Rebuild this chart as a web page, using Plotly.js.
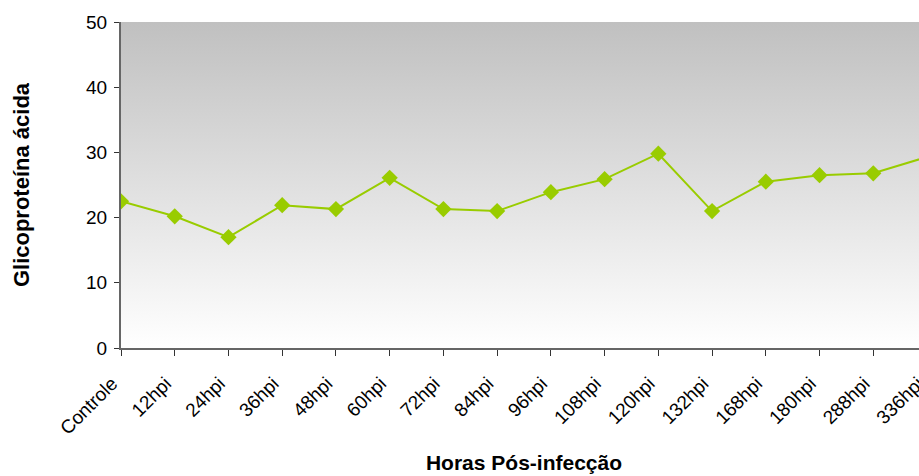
<!DOCTYPE html>
<html>
<head>
<meta charset="utf-8">
<script src="https://cdn.plot.ly/plotly-3.0.1.min.js"></script>
<style>
html,body{margin:0;padding:0;overflow:hidden;background:#fff;}
#chart{width:940px;height:476px;}
</style>
</head>
<body>
<div id="chart"></div>
<script>
var categories = ["Controle","12hpi","24hpi","36hpi","48hpi","60hpi","72hpi","84hpi","96hpi","108hpi","120hpi","132hpi","168hpi","180hpi","288hpi","336hpi"];
var values = [22.5, 20.2, 17.0, 21.9, 21.3, 26.1, 21.3, 21.0, 23.9, 25.9, 29.8, 21.0, 25.5, 26.5, 26.8, 29.3];
var yTicks = [0, 10, 20, 30, 40, 50];
var xTitle = "Horas Pós-infecção";
var yTitle = "Glicoproteína ácida";

var idx = categories.map(function(c, i){ return i; });
var last = categories.length - 1;

var bg = {
  x: [0, last], y: [50, 50], type: 'scatter', mode: 'none',
  fill: 'tozeroy',
  fillgradient: {type: 'vertical', colorscale: [[0, '#ffffff'], [1, '#c0c0c0']], start: 0, stop: 50},
  hoverinfo: 'skip', showlegend: false
};
var line = {
  x: idx, y: values, type: 'scatter', mode: 'lines+markers',
  line: {color: '#99cc00', width: 2},
  marker: {symbol: 'diamond', size: 12.5, color: '#99cc00'},
  cliponaxis: true,
  showlegend: false
};

var layout = {
  width: 940, height: 476,
  margin: {l: 121, r: 13, t: 22, b: 128},
  paper_bgcolor: '#ffffff', plot_bgcolor: 'rgba(0,0,0,0)',
  font: {family: 'Liberation Sans, Arial, sans-serif', size: 19, color: '#000'},
  xaxis: {
    range: [0, last],
    tickvals: idx, ticktext: categories,
    tickangle: -45,
    ticks: 'outside', ticklen: 6, tickcolor: '#333', tickwidth: 1,
    ticklabelshift: -9, ticklabelstandoff: 9,
    showline: true, linecolor: '#666', linewidth: 2,
    showgrid: false, zeroline: false,
    tickfont: {size: 19, color: '#000'},
    title: {text: xTitle, font: {size: 21, color: '#000', weight: 'bold'}, standoff: 18}
  },
  yaxis: {
    range: [0, 50],
    tickvals: yTicks,
    ticks: 'outside', ticklen: 5, tickcolor: '#333', tickwidth: 1,
    ticklabelstandoff: 3,
    showline: true, linecolor: '#666', linewidth: 2,
    showgrid: false, zeroline: false,
    tickfont: {size: 19, color: '#000'},
    title: {text: yTitle, font: {size: 22, color: '#000', weight: 'bold'}, standoff: 50}
  }
};

Plotly.newPlot('chart', [bg, line], layout, {staticPlot: true, displayModeBar: false});
</script>
</body>
</html>
